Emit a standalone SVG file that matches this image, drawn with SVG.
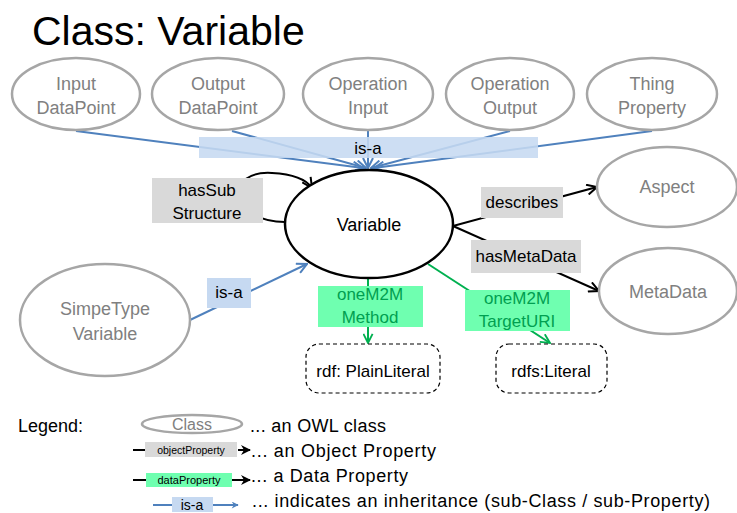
<svg xmlns="http://www.w3.org/2000/svg" width="737" height="513" viewBox="0 0 737 513">
<defs>
<style>
text{font-family:"Liberation Sans",Arial,sans-serif;}
.cls{fill:#fff;stroke:#a6a6a6;stroke-width:2.5;}
.clt{fill:#808080;font-size:18px;text-anchor:middle;}
.blk{fill:#000;font-size:17px;text-anchor:middle;}
.isa{stroke:#4f81bd;stroke-width:2;fill:none;}
.obj{stroke:#000;stroke-width:2;fill:none;}
.dat{stroke:#00b050;stroke-width:2;fill:none;}
.grayr{fill:#d9d9d9;}
.bluer{fill:#c6d9f1;}
.greenr{fill:#6fffb0;}
.grt{fill:#00a050;font-size:17px;text-anchor:middle;}
.lit{fill:#fff;stroke:#000;stroke-width:1.2;stroke-dasharray:4,3;}
.leg{fill:#000;font-size:18px;}
</style>
<marker id="aB" viewBox="0 0 12 12" refX="11" refY="6" markerWidth="12" markerHeight="12" markerUnits="userSpaceOnUse" orient="auto"><path d="M1,1 L11,6 L1,11" fill="none" stroke="#4f81bd" stroke-width="2"/></marker>
<marker id="aK" viewBox="0 0 12 12" refX="11" refY="6" markerWidth="12" markerHeight="12" markerUnits="userSpaceOnUse" orient="auto"><path d="M1,1 L11,6 L1,11" fill="none" stroke="#000" stroke-width="2"/></marker>
<marker id="aG" viewBox="0 0 12 12" refX="11" refY="6" markerWidth="11" markerHeight="11" markerUnits="userSpaceOnUse" orient="auto"><path d="M1,1 L11,6 L1,11" fill="none" stroke="#00b050" stroke-width="2"/></marker>
<marker id="fK" viewBox="0 0 10 10" refX="9" refY="5" markerWidth="10" markerHeight="10" markerUnits="userSpaceOnUse" orient="auto"><path d="M0,0 L10,5 L0,10 L3,5 Z" fill="#000"/></marker>
<marker id="fB" viewBox="0 0 10 10" refX="9" refY="5" markerWidth="9" markerHeight="7" markerUnits="userSpaceOnUse" orient="auto"><path d="M0,0 L10,5 L0,10 L3,5 Z" fill="#4f81bd"/></marker>
</defs>
<rect width="737" height="513" fill="#fff"/>
<text x="32" y="45" style="font-size:41px" fill="#000">Class: Variable</text>

<g id="connectors">
<line class="isa" x1="76" y1="131" x2="363" y2="168" marker-end="url(#aB)"/>
<line class="isa" x1="232" y1="131" x2="366" y2="168" marker-end="url(#aB)"/>
<line class="isa" x1="368" y1="131" x2="368" y2="168" marker-end="url(#aB)"/>
<line class="isa" x1="510" y1="131" x2="371" y2="168" marker-end="url(#aB)"/>
<line class="isa" x1="652" y1="131" x2="374" y2="168" marker-end="url(#aB)"/>
<rect class="bluer" x="199" y="137" width="339" height="21" fill-opacity="0.88"/>
<text class="blk" x="368" y="154">is-a</text>

<line class="isa" x1="190" y1="320" x2="307" y2="264" marker-end="url(#aB)"/>
<rect class="bluer" x="207" y="278" width="44" height="30"/>
<text class="blk" x="229" y="298">is-a</text>

<path class="obj" d="M285,222 C230,222 222,170 272,173 C292,174 306,179 312,188" marker-end="url(#aK)"/>
<rect class="grayr" x="152" y="178" width="111" height="45"/>
<text class="blk" x="207" y="196">hasSub</text>
<text class="blk" x="207" y="219">Structure</text>

<line class="obj" x1="453" y1="226" x2="597" y2="187" marker-end="url(#aK)"/>
<rect class="grayr" x="481" y="187" width="82" height="31"/>
<text class="blk" x="522" y="208">describes</text>

<line class="obj" x1="453" y1="226" x2="599" y2="291" marker-end="url(#aK)"/>
<rect class="grayr" x="471" y="240" width="110" height="33"/>
<text class="blk" x="526" y="262">hasMetaData</text>

<line class="dat" x1="368" y1="278" x2="368" y2="343" marker-end="url(#aG)"/>
<rect class="greenr" x="318" y="286" width="105" height="41"/>
<text class="grt" x="370" y="300">oneM2M</text>
<text class="grt" x="370" y="323">Method</text>

<line class="dat" x1="428" y1="264" x2="550" y2="343" marker-end="url(#aG)"/>
<rect class="greenr" x="465" y="290" width="105" height="41"/>
<text class="grt" x="517" y="304">oneM2M</text>
<text class="grt" x="517" y="327">TargetURI</text>
</g>

<g id="n-input-dp"><ellipse class="cls" cx="76" cy="94" rx="64" ry="36"/><text class="clt" x="76" y="90">Input</text><text class="clt" x="76" y="114">DataPoint</text></g>
<g id="n-output-dp"><ellipse class="cls" cx="218" cy="94" rx="66" ry="36"/><text class="clt" x="218" y="90">Output</text><text class="clt" x="218" y="114">DataPoint</text></g>
<g id="n-op-input"><ellipse class="cls" cx="368" cy="94" rx="65" ry="36"/><text class="clt" x="368" y="90">Operation</text><text class="clt" x="368" y="114">Input</text></g>
<g id="n-op-output"><ellipse class="cls" cx="510" cy="94" rx="64" ry="36"/><text class="clt" x="510" y="90">Operation</text><text class="clt" x="510" y="114">Output</text></g>
<g id="n-thing-prop"><ellipse class="cls" cx="652" cy="94" rx="65" ry="36"/><text class="clt" x="652" y="90">Thing</text><text class="clt" x="652" y="114">Property</text></g>
<g id="n-variable"><ellipse cx="369" cy="224" rx="84" ry="54" fill="#fff" stroke="#000" stroke-width="2.5"/><text x="369" y="231" style="font-size:18px" fill="#000" text-anchor="middle">Variable</text></g>
<g id="n-aspect"><ellipse class="cls" cx="667" cy="187" rx="70" ry="40"/><text class="clt" x="667" y="193">Aspect</text></g>
<g id="n-metadata"><ellipse class="cls" cx="668" cy="291" rx="69" ry="43"/><text class="clt" x="668" y="298">MetaData</text></g>
<g id="n-simpletype"><ellipse class="cls" cx="105" cy="320" rx="85" ry="56"/><text class="clt" x="105" y="315">SimpeType</text><text class="clt" x="105" y="340">Variable</text></g>
<g id="n-plainliteral"><rect class="lit" x="306" y="344" width="134" height="49" rx="13"/><text class="blk" x="373" y="377">rdf: PlainLiteral</text></g>
<g id="n-literal"><rect class="lit" x="496" y="344" width="111" height="49" rx="13"/><text class="blk" x="551" y="377">rdfs:Literal</text></g>

<g id="legend">
<text class="leg" x="18" y="432">Legend:</text>
<ellipse class="cls" cx="192" cy="424" rx="50" ry="9"/>
<text x="192" y="430" style="font-size:16px" fill="#808080" text-anchor="middle">Class</text>
<text class="leg" x="250" y="432" textLength="136" lengthAdjust="spacing">... an OWL class</text>
<line class="obj" x1="133" y1="450" x2="145" y2="450"/>
<rect class="grayr" x="145" y="442" width="92" height="15"/>
<text x="191" y="454" style="font-size:10.5px" fill="#000" text-anchor="middle">objectProperty</text>
<line class="obj" x1="238" y1="450" x2="250" y2="450" marker-end="url(#fK)"/>
<text class="leg" x="251" y="457" textLength="185" lengthAdjust="spacing">... an Object Property</text>
<line class="obj" x1="133" y1="480" x2="146" y2="480"/>
<rect class="greenr" x="146" y="473" width="86" height="14"/>
<text x="189" y="484" style="font-size:11px" fill="#000" text-anchor="middle">dataProperty</text>
<line class="obj" x1="232" y1="480" x2="250" y2="480" marker-end="url(#fK)"/>
<text class="leg" x="251" y="482" textLength="157" lengthAdjust="spacing">... a Data Property</text>
<line class="isa" x1="153" y1="505" x2="172" y2="505"/>
<rect class="bluer" x="172" y="497" width="41" height="15"/>
<text x="192" y="510" style="font-size:14px" fill="#000" text-anchor="middle">is-a</text>
<line class="isa" x1="213" y1="505" x2="238" y2="505" marker-end="url(#fB)"/>
<text class="leg" x="252" y="507" textLength="458" lengthAdjust="spacing">... indicates an inheritance (sub-Class / sub-Property)</text>
</g>
</svg>
